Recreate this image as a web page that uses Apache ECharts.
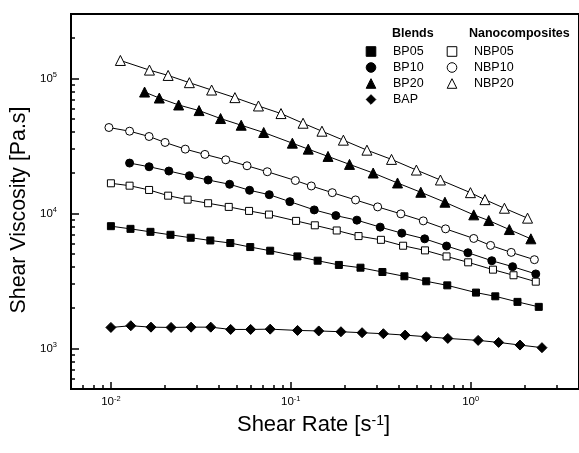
<!DOCTYPE html>
<html>
<head>
<meta charset="utf-8">
<script src="https://cdn.jsdelivr.net/npm/echarts@6/dist/echarts.min.js"></script>
<style>
  html, body { margin: 0; padding: 0; background: #fff; }
  #main { width: 579px; height: 453px; }
</style>
</head>
<body>
<div id="main"></div>
<script>
// shear rate [1/s] and shear viscosity [Pa.s]
const rateBP05 = [0.0100, 0.01285, 0.01659, 0.02144, 0.02777, 0.0357, 0.0461, 0.0595, 0.0768, 0.1088, 0.141, 0.185, 0.244, 0.323, 0.428, 0.566, 0.741, 1.07, 1.37, 1.82, 2.39];
const etaBP05 = [8040, 7680, 7300, 6940, 6600, 6300, 6030, 5630, 5290, 4800, 4460, 4150, 3960, 3680, 3420, 3140, 2930, 2590, 2430, 2210, 2030];

const rateBP10 = [0.0127, 0.0163, 0.0210, 0.0273, 0.0347, 0.0457, 0.0590, 0.0759, 0.0988, 0.135, 0.178, 0.233, 0.314, 0.414, 0.555, 0.734, 0.965, 1.31, 1.71, 2.30];
const etaBP10 = [23590, 22150, 20590, 19010, 17670, 16430, 14830, 13760, 12220, 10610, 9630, 8910, 7910, 7140, 6480, 5730, 5110, 4460, 4030, 3560];

const rateBP20 = [0.01539, 0.01858, 0.0238, 0.0309, 0.0407, 0.0530, 0.0707, 0.102, 0.125, 0.161, 0.212, 0.287, 0.392, 0.528, 0.719, 1.04, 1.26, 1.64, 2.16];
const etaBP20 = [79220, 71540, 63540, 57750, 50430, 44990, 39750, 33130, 29920, 26430, 23070, 19910, 16800, 14340, 12100, 9750, 8850, 7590, 6480];

const rateBAP = [0.0100, 0.0129, 0.0167, 0.0216, 0.0279, 0.0359, 0.0463, 0.0598, 0.0768, 0.109, 0.143, 0.190, 0.249, 0.327, 0.432, 0.566, 0.746, 1.10, 1.43, 1.88, 2.49];
const etaBAP = [1429, 1471, 1436, 1429, 1436, 1436, 1381, 1381, 1388, 1358, 1346, 1328, 1306, 1284, 1254, 1220, 1185, 1146, 1107, 1058, 1012];

const rateNBP05 = [0.0100, 0.0127, 0.0163, 0.0208, 0.0267, 0.0347, 0.0452, 0.0586, 0.0756, 0.107, 0.136, 0.180, 0.238, 0.317, 0.421, 0.557, 0.734, 0.968, 1.33, 1.73, 2.30];
const etaNBP05 = [16710, 16040, 14910, 13530, 12640, 11890, 11170, 10430, 9800, 8800, 8160, 7470, 6790, 6370, 5760, 5320, 4800, 4340, 3830, 3480, 3120];

const rateNBP10 = [0.00975, 0.0127, 0.0163, 0.0200, 0.0259, 0.0333, 0.0435, 0.0571, 0.0740, 0.106, 0.130, 0.170, 0.229, 0.304, 0.409, 0.545, 0.725, 1.04, 1.29, 1.68, 2.26];
const etaNBP10 = [43270, 40630, 37120, 33530, 29920, 27350, 24950, 22530, 20350, 17520, 15960, 14240, 12580, 11170, 9920, 8800, 7680, 6520, 5790, 5140, 4540];

const rateNBP20 = [0.01129, 0.01638, 0.0208, 0.0273, 0.0363, 0.0489, 0.0661, 0.0882, 0.117, 0.149, 0.196, 0.265, 0.363, 0.499, 0.679, 0.997, 1.20, 1.54, 2.07];
const etaNBP20 = [135800, 115200, 105200, 92970, 81990, 72030, 62480, 54890, 46550, 40630, 34870, 29410, 25120, 20940, 17670, 14240, 12640, 10920, 9220];

// ticks
const xMajorTicks = [0.01, 0.1, 1];
const xMinorTicks = [0.006, 0.007, 0.008, 0.009, 0.02, 0.03, 0.04, 0.05, 0.06, 0.07, 0.08, 0.09,
  0.2, 0.3, 0.4, 0.5, 0.6, 0.7, 0.8, 0.9, 2, 3, 4];
const yMajorTicks = [1000, 10000, 100000];
const yMinorTicks = [600, 700, 800, 900, 2000, 3000, 4000, 5000, 6000, 7000, 8000, 9000,
  20000, 30000, 40000, 50000, 60000, 70000, 80000, 90000, 200000, 300000];

const FONT = '"Liberation Sans", Arial, sans-serif';

function powLabel(v) {
  return '10{sup|' + Math.round(Math.log10(v)) + '}';
}
function pairs(xs, ys) {
  return xs.map((x, i) => [x, ys[i]]);
}

const tickLabel = {
  formatter: powLabel,
  color: '#000',
  fontSize: 11.5,
  lineHeight: 14,
  fontFamily: FONT,
  rich: { sup: { fontSize: 7.5, verticalAlign: 'top', color: '#000', fontFamily: FONT } }
};

function mkSeries(name, xs, ys, symbol, size, filled) {
  return {
    name: name,
    type: 'line',
    data: pairs(xs, ys),
    symbol: symbol,
    symbolSize: size,
    showAllSymbol: true,
    lineStyle: { color: '#000', width: 1 },
    itemStyle: { color: filled ? '#000' : '#fff', borderColor: '#000', borderWidth: 1 },
    emphasis: { disabled: true }
  };
}

const chart = echarts.init(document.getElementById('main'));
chart.setOption({
  animation: false,
  backgroundColor: '#fff',
  textStyle: { fontFamily: FONT },
  grid: { left: 71, right: -9, top: 14, bottom: 64, show: true, borderColor: '#000', borderWidth: 2 },
  xAxis: [
    {
      type: 'log', logBase: 10, min: 0.006, max: 4, position: 'bottom',
      name: 'Shear Rate [s{sup|-1}]', nameLocation: 'middle', nameGap: 19,
      nameTextStyle: {
        fontSize: 22, color: '#000', fontFamily: FONT, padding: [0, 23, 0, 0],
        rich: { sup: { fontSize: 14, verticalAlign: 'top', color: '#000', fontFamily: FONT } }
      },
      axisLine: { lineStyle: { color: '#000', width: 2 } },
      axisTick: { inside: true, length: 7, lineStyle: { color: '#000', width: 1.5 }, customValues: xMajorTicks },
      axisLabel: Object.assign({}, tickLabel, { customValues: xMajorTicks, margin: 6 }),
      splitLine: { show: false }
    },
    {
      type: 'log', logBase: 10, min: 0.006, max: 4, position: 'bottom',
      axisLine: { show: false },
      axisTick: { inside: true, length: 4, lineStyle: { color: '#000', width: 1.5 }, customValues: xMinorTicks },
      axisLabel: { show: false },
      splitLine: { show: false }
    }
  ],
  yAxis: [
    {
      type: 'log', logBase: 10, min: 500, max: 300000, position: 'left',
      name: 'Shear Viscosity [Pa.s]', nameLocation: 'middle', nameGap: 38,
      nameTextStyle: { fontSize: 21.3, color: '#000', fontFamily: FONT, padding: [0, 17, 0, 0] },
      axisLine: { lineStyle: { color: '#000', width: 2 } },
      axisTick: { inside: true, length: 8, lineStyle: { color: '#000', width: 1.5 }, customValues: yMajorTicks },
      axisLabel: Object.assign({}, tickLabel, { customValues: yMajorTicks, margin: 14 }),
      splitLine: { show: false }
    },
    {
      type: 'log', logBase: 10, min: 500, max: 300000, position: 'left',
      axisLine: { show: false },
      axisTick: { inside: true, length: 4, lineStyle: { color: '#000', width: 1.5 }, customValues: yMinorTicks },
      axisLabel: { show: false },
      splitLine: { show: false }
    }
  ],
  legend: [
    {
      data: ['BP05', 'BP10', 'BP20', 'BAP'],
      orient: 'vertical', left: 354, top: 45, padding: 0,
      itemWidth: 34, itemHeight: 12, itemGap: 3,
      textStyle: { fontSize: 12.5, color: '#000', fontFamily: FONT },
      lineStyle: { width: 0 },
      itemStyle: { borderWidth: 1 },
      selectedMode: false
    },
    {
      data: ['NBP05', 'NBP10', 'NBP20'],
      orient: 'vertical', left: 435, top: 45, padding: 0,
      itemWidth: 34, itemHeight: 12, itemGap: 3,
      textStyle: { fontSize: 12.5, color: '#000', fontFamily: FONT },
      lineStyle: { width: 0 },
      itemStyle: { borderWidth: 1 },
      selectedMode: false
    }
  ],
  graphic: [
    { type: 'text', left: 392, top: 27, style: { text: 'Blends', font: 'bold 12.5px ' + FONT, fill: '#000' } },
    { type: 'text', left: 469, top: 27, style: { text: 'Nanocomposites', font: 'bold 12.5px ' + FONT, fill: '#000' } }
  ],
  series: [
    mkSeries('BP05', rateBP05, etaBP05, 'rect', 7, true),
    mkSeries('BP10', rateBP10, etaBP10, 'circle', 8, true),
    mkSeries('BP20', rateBP20, etaBP20, 'triangle', 10, true),
    mkSeries('BAP', rateBAP, etaBAP, 'diamond', 10, true),
    mkSeries('NBP05', rateNBP05, etaNBP05, 'rect', 7, false),
    mkSeries('NBP10', rateNBP10, etaNBP10, 'circle', 8, false),
    mkSeries('NBP20', rateNBP20, etaNBP20, 'triangle', 10, false)
  ]
});
</script>
</body>
</html>
